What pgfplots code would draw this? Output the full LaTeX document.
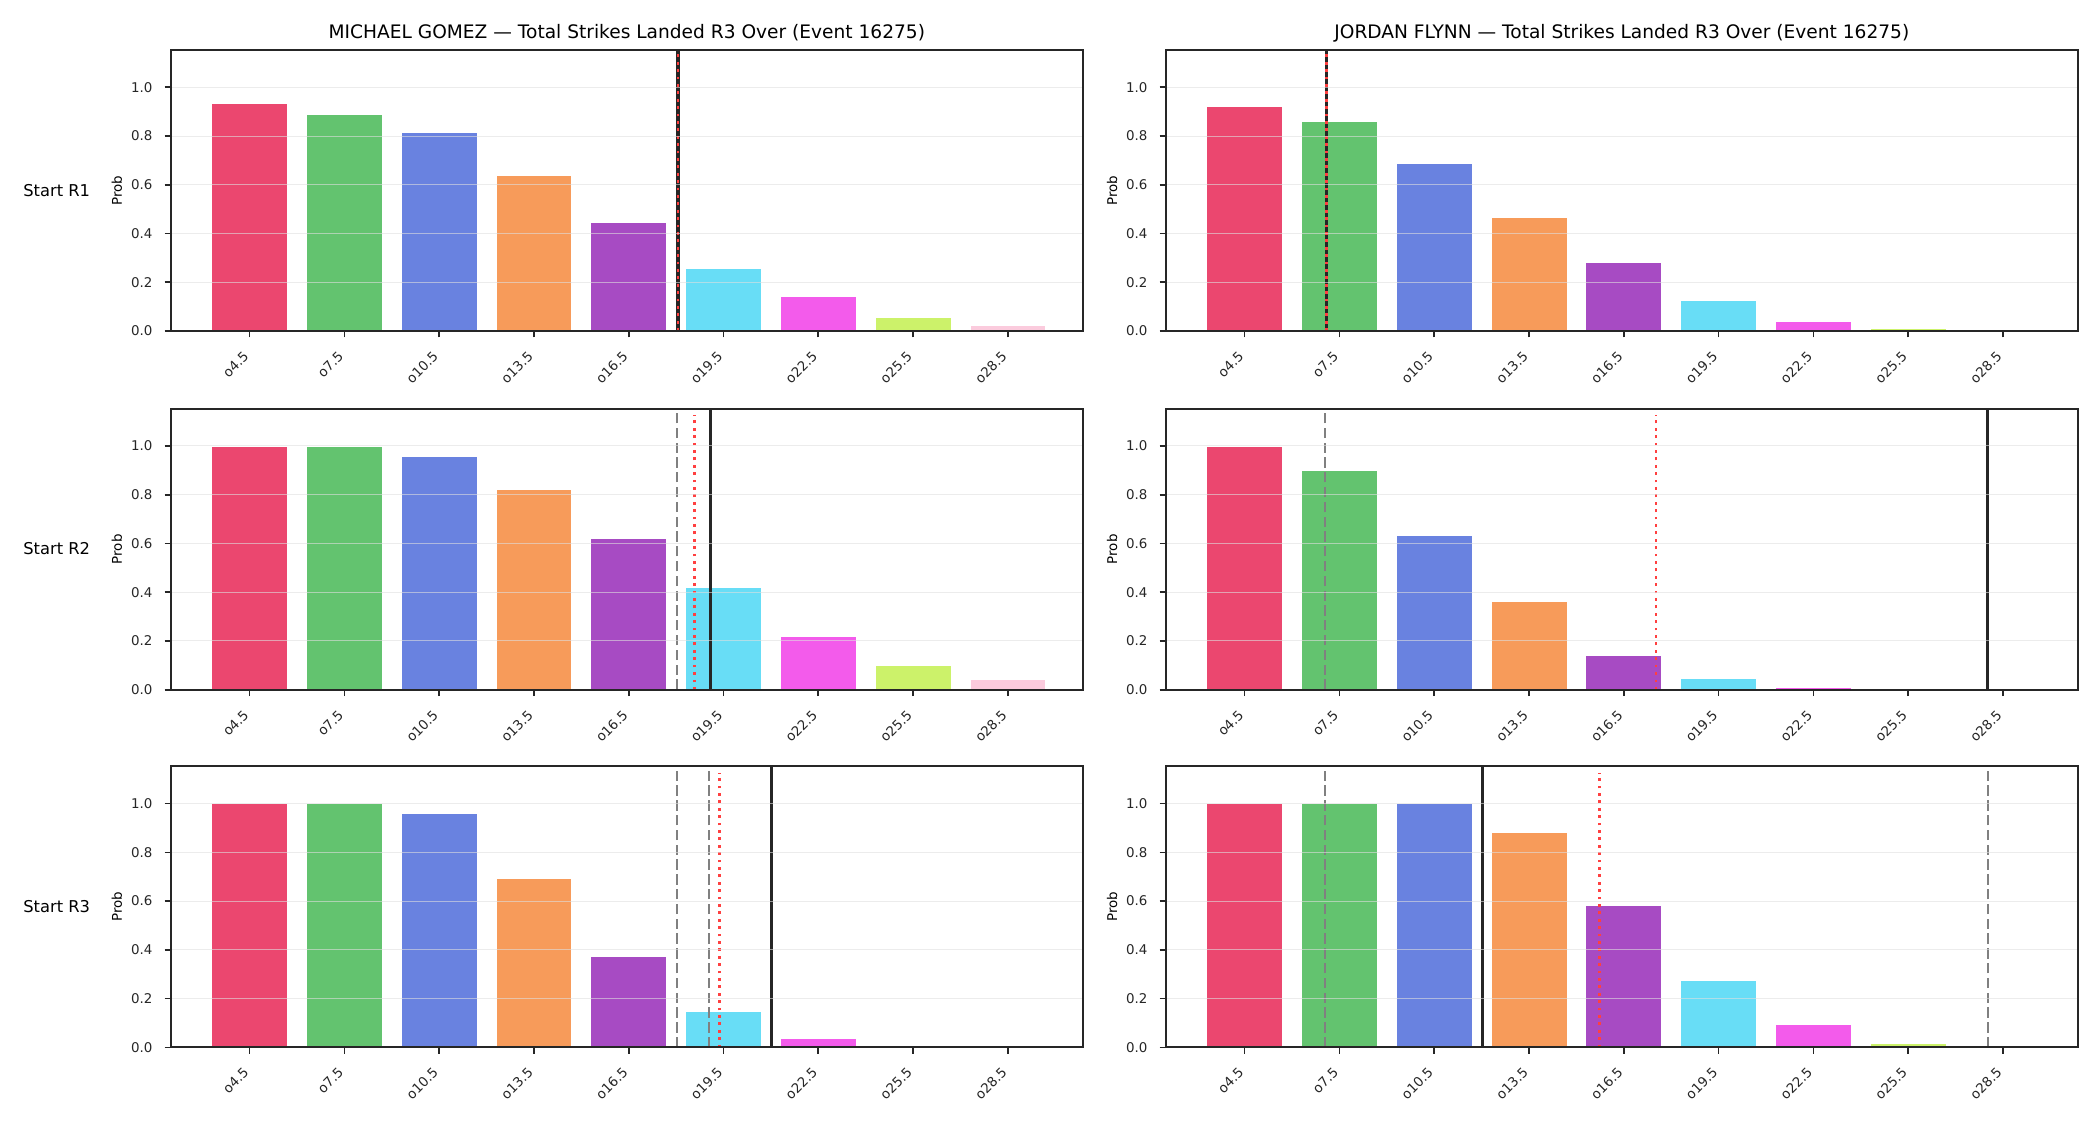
\documentclass[border=0pt]{standalone}
\usepackage{fontspec}
\setmainfont{DejaVu Sans}
\usepackage{pgfplots}
\pgfplotsset{compat=1.18}
\usepackage{pgfplotstable}

\definecolor{c0}{HTML}{EB476F}
\definecolor{c1}{HTML}{63C36F}
\definecolor{c2}{HTML}{6982E0}
\definecolor{c3}{HTML}{F79B5A}
\definecolor{c4}{HTML}{A74BC3}
\definecolor{c5}{HTML}{68DDF6}
\definecolor{c6}{HTML}{F35BEB}
\definecolor{c7}{HTML}{CCF26A}
\definecolor{c8}{HTML}{FBCBDD}
\definecolor{rdot}{HTML}{FF4040}
\definecolor{spine}{HTML}{262626}

\pgfplotstableread{
x p
0 0.932
1 0.890
2 0.816
3 0.640
4 0.447
5 0.258
6 0.142
7 0.056
8 0.023
}\tGa
\pgfplotstableread{
x p
0 0.923
1 0.858
2 0.689
3 0.467
4 0.282
5 0.126
6 0.040
7 0.010
8 0.002
}\tFa
\pgfplotstableread{
x p
0 0.997
1 0.997
2 0.956
3 0.821
4 0.621
5 0.420
6 0.220
7 0.101
8 0.044
}\tGb
\pgfplotstableread{
x p
0 0.997
1 0.899
2 0.633
3 0.363
4 0.142
5 0.048
6 0.011
7 0.007
8 0.006
}\tFb
\pgfplotstableread{
x p
0 0.999
1 0.999
2 0.958
3 0.691
4 0.374
5 0.149
6 0.036
7 0.007
8 0.005
}\tGc
\pgfplotstableread{
x p
0 0.999
1 0.999
2 0.999
3 0.880
4 0.583
5 0.273
6 0.092
7 0.018
8 0.007
}\tFc

\pgfplotsset{
  panel/.style={
    scale only axis, width=911.7pt, height=281pt, anchor=south west,
    xmin=-0.83, xmax=8.79, ymin=0, ymax=1.153,
    xtick={0,...,8},
    xticklabels={o4.5,o7.5,o10.5,o13.5,o16.5,o19.5,o22.5,o25.5,o28.5},
    ytick={0,0.2,0.4,0.6,0.8,1},
    yticklabels={0.0,0.2,0.4,0.6,0.8,1.0},
    tick pos=left, tick align=outside, major tick length=6.3pt,
    every tick/.style={spine, line width=1.6pt},
    axis line style={spine, line width=2pt},
    ymajorgrids, major grid style={gray!25, line width=1pt, opacity=0.6},
    axis on top,
    tick label style={font=\fontsize{13.4}{16}\selectfont, text=spine},
    xticklabel style={xshift=-3.5pt, yshift=-16.5pt, rotate=45, anchor=east, inner sep=0pt},
    yticklabel style={anchor=east, inner sep=0pt, xshift=-12pt},
    ylabel={Prob},
    every axis y label/.style={at={(rel axis cs:0,0.5)}, xshift=-54pt, rotate=90, anchor=center, font=\fontsize{13.4}{16}\selectfont},
    every axis title/.style={at={(rel axis cs:0.5,1)}, anchor=base, yshift=11.7pt, font=\fontsize{18.6}{22}\selectfont},
  },
  vsolid/.style={spine, line width=3.2pt, mark=none},
  vdash/.style={black!50, line width=2.2pt, dash pattern=on 10.3pt off 4.5pt, mark=none},
  vdot/.style={rdot, line width=2.8pt, dash pattern=on 2.8pt off 4.6pt, mark=none},
}

\newcommand{\bars}[1]{%
  \pgfplotsinvokeforeach{0,...,8}{%
    \addplot[ybar, bar width=0.8, bar shift=0pt, fill=c##1, draw=white, line width=0.8pt,
      restrict x to domain=##1:##1] table[x=x, y=p] {#1};
  }%
}

\begin{document}
\begin{tikzpicture}
\path[use as bounding box] (0,0) rectangle (2100pt,1125pt);

% Row 1
\begin{axis}[panel, at={(171pt,794pt)}, title={MICHAEL GOMEZ — Total Strikes Landed R3 Over (Event 16275)}]
\bars{\tGa}
\addplot[vsolid] coordinates {(4.52,0) (4.52,1.153)};
\addplot[vdot] coordinates {(4.52,0) (4.52,1.153)};
\end{axis}
\begin{axis}[panel, at={(1166pt,794pt)}, title={JORDAN FLYNN — Total Strikes Landed R3 Over (Event 16275)}]
\bars{\tFa}
\addplot[vsolid] coordinates {(0.86,0) (0.86,1.153)};
\addplot[vdot] coordinates {(0.86,0) (0.86,1.153)};
\end{axis}

% Row 2
\begin{axis}[panel, at={(171pt,435.3pt)}]
\bars{\tGb}
\addplot[vdash] coordinates {(4.51,0) (4.51,1.153)};
\addplot[vsolid] coordinates {(4.86,0) (4.86,1.153)};
\addplot[vdot] coordinates {(4.69,0) (4.69,1.127)};
\end{axis}
\begin{axis}[panel, at={(1166pt,435.3pt)}]
\bars{\tFb}
\addplot[vdash] coordinates {(0.85,0) (0.85,1.153)};
\addplot[vsolid] coordinates {(7.84,0) (7.84,1.153)};
\addplot[vdot] coordinates {(4.34,0) (4.34,1.127)};
\end{axis}

% Row 3
\begin{axis}[panel, at={(171pt,77.7pt)}]
\bars{\tGc}
\addplot[vdash] coordinates {(4.51,0) (4.51,1.153)};
\addplot[vdash] coordinates {(4.85,0) (4.85,1.153)};
\addplot[vsolid] coordinates {(5.51,0) (5.51,1.153)};
\addplot[vdot] coordinates {(4.96,0) (4.96,1.127)};
\end{axis}
\begin{axis}[panel, at={(1166pt,77.7pt)}]
\bars{\tFc}
\addplot[vdash] coordinates {(0.85,0) (0.85,1.153)};
\addplot[vdash] coordinates {(7.84,0) (7.84,1.153)};
\addplot[vsolid] coordinates {(2.51,0) (2.51,1.153)};
\addplot[vdot] coordinates {(3.74,0) (3.74,1.127)};
\end{axis}

% Row labels
\node[font=\fontsize{16.3}{19}\selectfont, text=black, anchor=center] at (56.7pt,934.5pt) {Start R1};
\node[font=\fontsize{16.3}{19}\selectfont, text=black, anchor=center] at (56.7pt,576.3pt) {Start R2};
\node[font=\fontsize{16.3}{19}\selectfont, text=black, anchor=center] at (56.7pt,218pt) {Start R3};
\end{tikzpicture}
\end{document}
